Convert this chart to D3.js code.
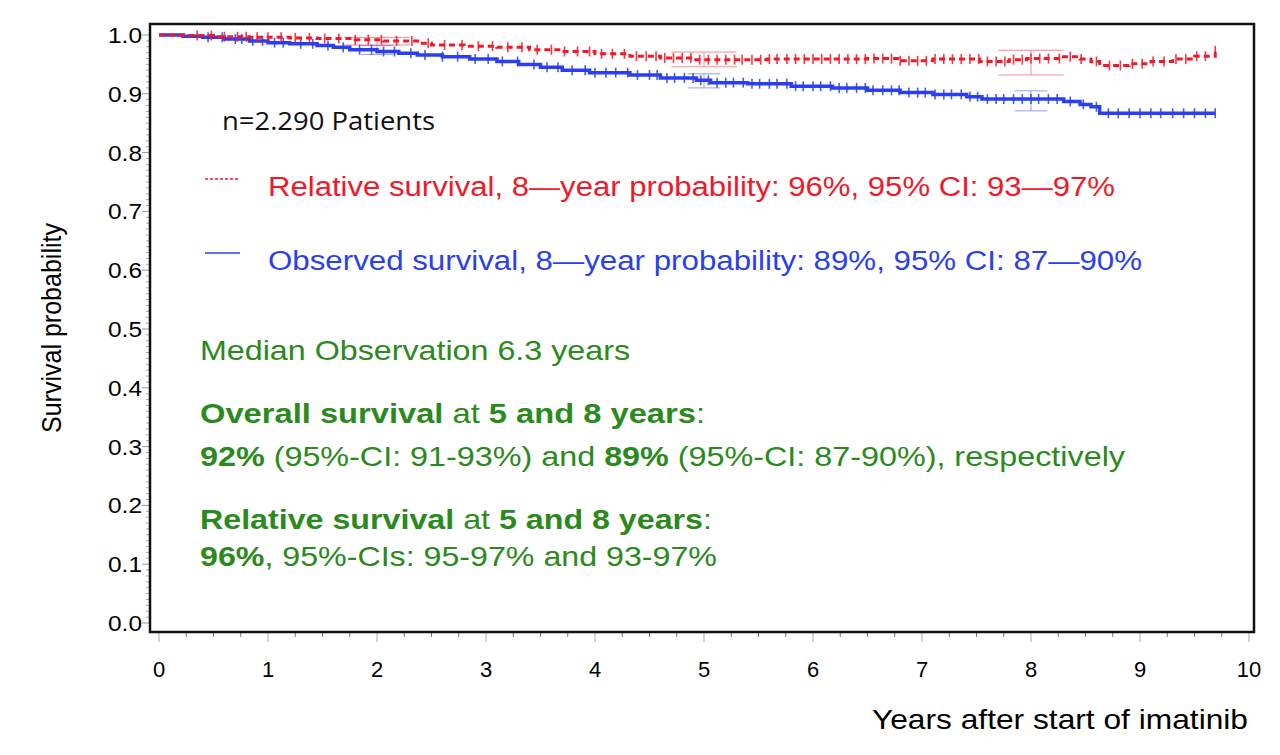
<!DOCTYPE html>
<html>
<head>
<meta charset="utf-8">
<script src="https://cdn.jsdelivr.net/npm/d3@7"></script>
<style>
  body { margin: 0; background: #fff; }
  svg { display: block; }
</style>
</head>
<body>
<svg id="chart" width="1280" height="755"></svg>
<script>
// Kaplan-Meier step points
const obsT = [0, 0.22, 0.4, 0.6, 0.83, 1.0, 1.2, 1.45, 1.6, 1.75, 2.0, 2.2, 2.37, 2.6, 2.85, 3.1, 3.3, 3.5, 3.7, 3.95, 4.32, 4.6, 4.93, 5.06, 5.4, 5.8, 6.18, 6.5, 6.8, 7.1, 7.41, 7.55, 8.3, 8.45, 8.55, 8.63, 9.69];
const obsS = [1.0, 0.998, 0.996, 0.993, 0.990, 0.987, 0.985, 0.982, 0.979, 0.975, 0.972, 0.969, 0.966, 0.963, 0.959, 0.955, 0.950, 0.945, 0.940, 0.936, 0.932, 0.927, 0.923, 0.919, 0.917, 0.913, 0.910, 0.906, 0.902, 0.899, 0.895, 0.891, 0.887, 0.882, 0.878, 0.867, 0.867];

const relT = [0, 0.25, 0.5, 0.83, 1.2, 1.45, 1.8, 2.06, 2.4, 2.5, 2.8, 3.1, 3.4, 3.7, 4.0, 4.32, 4.6, 4.9, 5.2, 5.58, 6.0, 6.5, 6.8, 7.1, 7.53, 7.8, 7.96, 8.27, 8.45, 8.55, 8.63, 8.9, 9.1, 9.3, 9.5, 9.69];
const relS = [1.0, 0.999, 0.997, 0.996, 0.995, 0.994, 0.992, 0.990, 0.986, 0.983, 0.981, 0.979, 0.975, 0.972, 0.968, 0.964, 0.961, 0.958, 0.958, 0.959, 0.959, 0.960, 0.956, 0.959, 0.955, 0.958, 0.960, 0.963, 0.959, 0.955, 0.948, 0.951, 0.955, 0.959, 0.964, 0.973];

// censoring marks (years)
const obsCensor = [0.45, 0.58, 0.7, 0.76, 0.86, 0.95, 1.06, 1.14, 1.3, 1.41, 1.55, 1.69, 1.84, 1.95, 2.06, 2.16, 2.31, 2.44, 2.6, 2.74, 2.9, 3.02, 3.15, 3.29, 3.44, 3.56, 3.66, 3.79, 3.91, 4.0, 4.1, 4.19, 4.3, 4.39, 4.5, 4.57, 4.66, 4.73, 4.82, 4.9, 4.97, 5.04, 5.12, 5.2, 5.27, 5.36, 5.44, 5.51, 5.6, 5.67, 5.76, 5.84, 5.91, 6.0, 6.07, 6.16, 6.24, 6.31, 6.4, 6.48, 6.55, 6.64, 6.72, 6.79, 6.88, 6.96, 7.03, 7.12, 7.2, 7.27, 7.36, 7.44, 7.51, 7.6, 7.68, 7.75, 7.84, 7.92, 8.0, 8.07, 8.16, 8.24, 8.36, 8.48, 8.6, 8.71, 8.8, 8.9, 9.0, 9.1, 9.19, 9.3, 9.4, 9.5, 9.6, 9.69];
const relCensor = [0.35, 0.48, 0.6, 0.72, 0.8, 0.9, 1.0, 1.12, 1.25, 1.38, 1.52, 1.65, 1.8, 1.92, 2.04, 2.18, 2.32, 2.47, 2.62, 2.78, 2.93, 3.06, 3.2, 3.33, 3.47, 3.6, 3.72, 3.84, 3.95, 4.06, 4.16, 4.27, 4.38, 4.47, 4.56, 4.64, 4.72, 4.8, 4.88, 4.96, 5.04, 5.12, 5.2, 5.28, 5.35, 5.44, 5.52, 5.6, 5.67, 5.76, 5.84, 5.92, 6.0, 6.08, 6.16, 6.24, 6.32, 6.4, 6.48, 6.56, 6.64, 6.72, 6.8, 6.88, 6.96, 7.04, 7.12, 7.2, 7.28, 7.36, 7.44, 7.52, 7.6, 7.68, 7.76, 7.84, 7.92, 8.0, 8.08, 8.16, 8.26, 8.36, 8.46, 8.6, 8.72, 8.82, 8.93, 9.02, 9.12, 9.22, 9.33, 9.42, 9.52, 9.6, 9.69];

// pointwise confidence limits
const ciYears = [2, 5, 8];
const obsLo = [0.967, 0.910, 0.871];
const obsHi = [0.982, 0.934, 0.905];
const relLo = [0.983, 0.946, 0.932];
const relHi = [0.996, 0.971, 0.974];

const xTicks = [0, 1, 2, 3, 4, 5, 6, 7, 8, 9, 10];
const yTicks = [0, 0.1, 0.2, 0.3, 0.4, 0.5, 0.6, 0.7, 0.8, 0.9, 1.0];

const RED = "#f2182a", BLUE = "#2b3ff0", GREEN = "#2a8a1c";
const SANS = "'Liberation Sans', Arial, sans-serif";

const svg = d3.select("#chart");
const frame = { left: 150, right: 1254, top: 24, bottom: 632 };
const x = d3.scaleLinear().domain([0, 10]).range([159, 1249]);
const y = d3.scaleLinear().domain([0, 1]).range([623, 35]);

// axes ticks
const gAx = svg.append("g");
d3.range(0, 101).forEach(i => {
    const v = i / 100, major = i % 10 === 0;
    gAx.append("line")
        .attr("x1", frame.left - (major ? 8 : 4)).attr("x2", frame.left)
        .attr("y1", y(v)).attr("y2", y(v))
        .attr("stroke", major ? "#999" : "#aaa").attr("stroke-width", 1);
});
d3.range(0, 41).forEach(i => {
    const v = i / 4, major = i % 4 === 0;
    gAx.append("line")
        .attr("x1", x(v)).attr("x2", x(v))
        .attr("y1", frame.bottom).attr("y2", frame.bottom + (major ? 10 : 5))
        .attr("stroke", major ? "#aaa" : "#777").attr("stroke-width", 1);
});
gAx.selectAll(".ylab").data(yTicks).join("text")
    .attr("x", 142).attr("y", d => y(d) + 8)
    .attr("text-anchor", "end").attr("font-family", SANS).attr("font-size", 22)
    .attr("textLength", 34).attr("lengthAdjust", "spacingAndGlyphs")
    .text(d => d.toFixed(1));
gAx.selectAll(".xlab").data(xTicks).join("text")
    .attr("x", d => x(d)).attr("y", 677)
    .attr("text-anchor", "middle").attr("font-family", SANS).attr("font-size", 22)
    .text(d => d);

// frame
svg.append("rect")
    .attr("x", frame.left).attr("y", frame.top)
    .attr("width", frame.right - frame.left).attr("height", frame.bottom - frame.top)
    .attr("fill", "none").attr("stroke", "#111").attr("stroke-width", 2.5);

// axis titles
svg.append("text")
    .attr("transform", "translate(61,328) rotate(-90)")
    .attr("text-anchor", "middle").attr("font-family", SANS).attr("font-size", 27)
    .attr("textLength", 210).attr("lengthAdjust", "spacingAndGlyphs")
    .text("Survival probability");
svg.append("text")
    .attr("x", 1248).attr("y", 729).attr("text-anchor", "end")
    .attr("font-family", SANS).attr("font-size", 28)
    .attr("textLength", 376).attr("lengthAdjust", "spacingAndGlyphs")
    .text("Years after start of imatinib");

// curves
const step = d3.line().x(d => x(d[0])).y(d => y(d[1])).curve(d3.curveStepAfter);
const obsPts = obsT.map((t, i) => [t, obsS[i]]);
const relPts = relT.map((t, i) => [t, relS[i]]);
const survAt = (T, S, t) => S[Math.max(0, d3.bisectRight(T, t) - 1)];

function drawCI(lo, hi, half, col) {
    ciYears.forEach((t, i) => {
        const g = svg.append("g").attr("stroke", col).attr("stroke-width", 1).attr("opacity", 0.5);
        g.append("line").attr("x1", x(t)).attr("x2", x(t)).attr("y1", y(lo[i])).attr("y2", y(hi[i]));
        [lo[i], hi[i]].forEach(v => g.append("line")
            .attr("x1", x(t - half)).attr("x2", x(t + half)).attr("y1", y(v)).attr("y2", y(v)));
    });
}
drawCI(obsLo, obsHi, 0.15, BLUE);
drawCI(relLo, relHi, 0.3, RED);

function drawCensor(times, T, S, col) {
    svg.append("g").attr("stroke", col).attr("stroke-width", 1.6).attr("opacity", 0.85)
        .selectAll("line").data(times).join("line")
        .attr("x1", d => x(d)).attr("x2", d => x(d))
        .attr("y1", d => y(survAt(T, S, d)) - 5).attr("y2", d => y(survAt(T, S, d)) + 5);
}

svg.append("path").attr("d", step(obsPts))
    .attr("fill", "none").attr("stroke", BLUE).attr("stroke-width", 3.5);
drawCensor(obsCensor, obsT, obsS, BLUE);
svg.append("path").attr("d", step(relPts))
    .attr("fill", "none").attr("stroke", RED).attr("stroke-width", 3)
    .attr("stroke-dasharray", "6,4");
drawCensor(relCensor, relT, relS, RED);

// annotations
svg.append("text").attr("x", 222).attr("y", 130)
    .attr("font-family", "'Open Sans', sans-serif").attr("font-size", 25).attr("fill", "#111")
    .attr("textLength", 213).attr("lengthAdjust", "spacingAndGlyphs")
    .text("n=2.290 Patients");

svg.append("line").attr("x1", 205).attr("x2", 240).attr("y1", 179).attr("y2", 179)
    .attr("stroke", RED).attr("stroke-width", 1.5).attr("stroke-dasharray", "3,2");
svg.append("text").attr("x", 268).attr("y", 196)
    .attr("font-family", SANS).attr("font-size", 27).attr("fill", RED)
    .attr("textLength", 847).attr("lengthAdjust", "spacingAndGlyphs")
    .text("Relative survival, 8\u2014year probability: 96%, 95% CI: 93\u201497%");
svg.append("line").attr("x1", 205).attr("x2", 240).attr("y1", 253).attr("y2", 253)
    .attr("stroke", BLUE).attr("stroke-width", 1.5);
svg.append("text").attr("x", 268).attr("y", 270)
    .attr("font-family", SANS).attr("font-size", 27).attr("fill", BLUE)
    .attr("textLength", 874).attr("lengthAdjust", "spacingAndGlyphs")
    .text("Observed survival, 8\u2014year probability: 89%, 95% CI: 87\u201490%");

const notes = [
    { y: 360, w: 430, parts: [["Median Observation 6.3 years", 400]] },
    { y: 423, w: 505, parts: [["Overall survival", 700], [" at ", 400], ["5 and 8 years", 700], [":", 400]] },
    { y: 466, w: 925, parts: [["92%", 700], [" (95%-CI: 91-93%) and ", 400], ["89%", 700], [" (95%-CI: 87-90%), respectively", 400]] },
    { y: 529, w: 512, parts: [["Relative survival", 700], [" at ", 400], ["5 and 8 years", 700], [":", 400]] },
    { y: 566, w: 517, parts: [["96%", 700], [", 95%-CIs: 95-97% and 93-97%", 400]] }
];
notes.forEach(n => {
    const t = svg.append("text").attr("x", 200).attr("y", n.y)
        .attr("font-family", SANS).attr("font-size", 28).attr("fill", GREEN)
        .attr("textLength", n.w).attr("lengthAdjust", "spacingAndGlyphs")
        .attr("xml:space", "preserve");
    n.parts.forEach(p => t.append("tspan").attr("font-weight", p[1]).text(p[0]));
});
</script>
</body>
</html>
